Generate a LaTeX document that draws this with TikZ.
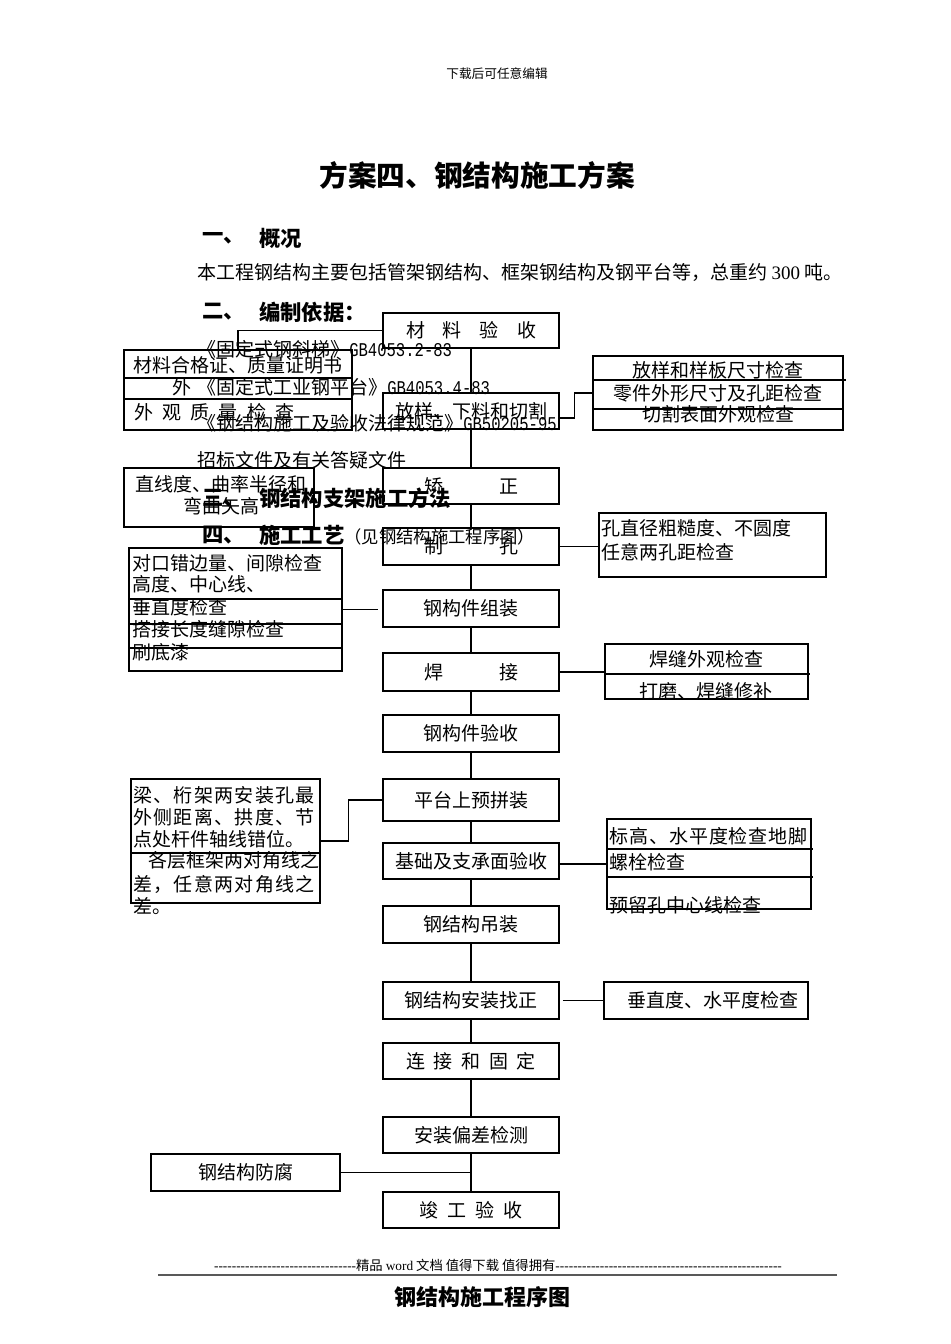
\documentclass[tikz,border=0pt]{standalone}
\usepackage{fontspec}
\setmainfont{Noto Sans CJK SC}
\newfontfamily\fserif{Liberation Serif}
\newfontfamily\fmono[FakeStretch=0.8]{Liberation Mono}
\newfontfamily\cjkwide[LetterSpace=7]{Noto Sans CJK SC}
\newfontfamily\cjkwideb[LetterSpace=5]{Noto Sans CJK SC}
\usetikzlibrary{calc}
\newcommand\fsz[1]{\fontsize{#1}{#1}\selectfont}
\newcommand\pxl[1]{#1*0.75pt}
\begin{document}
\begin{tikzpicture}[x=0.75pt,y=-0.75pt,
  mainbox/.style={draw,line width=1.2pt,minimum width=\pxl{176},minimum height=\pxl{36},inner sep=0pt,font=\fsz{14.25}},
  sidebox/.style={draw,line width=1.2pt,inner sep=0pt},
  inline/.style={line width=1.2pt},
  txt/.style={inner sep=0pt,anchor=west,font=\fsz{14.25}},
  ctxt/.style={inner sep=0pt,anchor=center,font=\fsz{14.25}},
  head/.style={inner sep=0pt,anchor=west,font=\fsz{16}\bfseries},
  conn/.style={line width=1pt},
]
\useasboundingbox (0,0) rectangle (950,1344);

% header and title
\node[ctxt,font=\fsz{9.5}] (hdr) at (497,74) {下载后可任意编辑};
\node[ctxt,font=\fsz{21.5}\bfseries] (title) at (477,175) {方案四、钢结构施工方案};

\node[head] (h1) at (202,238) {一、};
\node[head] (h1b) at (259,238) {概况};
\node[txt] (p1) at (197,272) {本工程钢结构主要包括管架钢结构、框架钢结构及钢平台等，总重约 {\fserif 300} 吨。};
\node[head] (h2) at (202,312) {二、};
\node[head] (h2b) at (259,312) {编制依据：};
\node[txt] (g1) at (197,349) {《固定式钢斜梯》{\fmono\fsz{14.6}GB4053.2-83}};
\node[txt] (g2) at (197,387) {《固定式工业钢平台》{\fmono\fsz{14.6}GB4053.4-83}};
\node[txt] (g3) at (197,423) {《钢结构施工及验收法律规范》{\fmono\fsz{14.6}GB50205-95}};
\node[txt] (g4) at (197,460) {招标文件及有关答疑文件};
\node[head] (h3) at (202,498) {三、};
\node[head] (h3b) at (259,498) {钢结构支架施工方法};
\node[head] (h4) at (202,535) {四、};
\node[txt] (h4b) at (259,535) {{\fsz{16}\bfseries 施工工艺}{\fsz{13}（见钢结构施工程序图）}};

% main column
\node[mainbox,minimum height=\pxl{35}] (b1) at (471,330.5) {材\hspace{13.5pt}料\hspace{13.5pt}验\hspace{13.5pt}收};
\node[mainbox] (b2) at (471,411) {放样、下料和切割};
\node[mainbox] (b3) at (471,486) {矫\hspace{42pt}正};
\node[mainbox,minimum height=\pxl{37}] (b4) at (471,546.5) {制\hspace{42pt}孔};
\node[mainbox,minimum height=\pxl{37}] (b5) at (471,608.5) {钢构件组装};
\node[mainbox,minimum height=\pxl{38}] (b6) at (471,672) {焊\hspace{42pt}接};
\node[mainbox,minimum height=\pxl{37}] (b7) at (471,733.5) {钢构件验收};
\node[mainbox,minimum height=\pxl{42}] (b8) at (471,800) {平台上预拼装};
\node[mainbox] (b9) at (471,861) {基础及支承面验收};
\node[mainbox,minimum height=\pxl{37}] (b10) at (471,924.5) {钢结构吊装};
\node[mainbox,minimum height=\pxl{37}] (b11) at (471,1000.5) {钢结构安装找正};
\node[mainbox] (b12) at (471,1061) {连\hspace{6.5pt}接\hspace{6.5pt}和\hspace{6.5pt}固\hspace{6.5pt}定};
\node[mainbox] (b13) at (471,1135) {安装偏差检测};
\node[mainbox] (b14) at (471,1210) {竣\hspace{7pt}工\hspace{7pt}验\hspace{7pt}收};

\foreach \a/\b in {b1/b2,b2/b3,b3/b4,b4/b5,b5/b6,b6/b7,b7/b8,b8/b9,b9/b10,b10/b11,b11/b12,b12/b13,b13/b14}
  \draw[conn] (\a.south) -- (\b.north);

% box A
\node[sidebox,minimum width=\pxl{228},minimum height=\pxl{80}] (A) at (238,390) {};
\draw[inline] (124,378) -- (352,378);
\draw[inline] (124,399) -- (352,399);
\node[txt] (a1) at (133,365) {材料合格证、质量证明书};
\node[txt] (a2) at (172,387) {外};
\node[txt] (a3) at (134,412) {外\hspace{6.9pt}观\hspace{6.9pt}质\hspace{6.9pt}量\hspace{6.9pt}检\hspace{6.9pt}查};
\draw[conn] (b1.west) -| (A.north);

% box B
\node[sidebox,minimum width=\pxl{190},minimum height=\pxl{59}] (B) at (219,497.5) {};
\node[txt] (bt1) at (135,484) {直线度、曲率半径和};
\node[txt] (bt2) at (183,506) {弯曲矢高};

% box C
\node[sidebox,minimum width=\pxl{213},minimum height=\pxl{123}] (C) at (235.5,609.5) {};
\draw[inline] (129,599) -- (342,599);
\draw[inline] (129,624) -- (342,624);
\draw[inline] (129,648) -- (342,648);
\node[txt] (c1) at (132,563) {对口错边量、间隙检查};
\node[txt] (c2) at (132,584) {高度、中心线、};
\node[txt] (c3) at (132,607) {垂直度检查};
\node[txt] (c4) at (132,629) {搭接长度缝隙检查};
\node[txt] (c5) at (132,652) {刷底漆};
\draw[conn] (C.east) -- ($(b5.west |- C.east)+(-4,0)$);

% box D
\node[sidebox,minimum width=\pxl{189},minimum height=\pxl{124}] (D) at (225.5,841) {};
\draw[inline] (131,853) -- (320,853);
\node[txt,font=\cjkwide\fsz{14.25}] (d1) at (133,795) {梁、桁架两安装孔最};
\node[txt,font=\cjkwide\fsz{14.25}] (d2) at (133,817) {外侧距离、拱度、节};
\node[txt] (d3) at (133,839) {点处杆件轴线错位。};
\node[txt] (d4) at (148,860) {各层框架两对角线之};
\node[txt,font=\cjkwide\fsz{14.25}] (d5) at (133,884) {差，任意两对角线之};
\node[txt] (d6) at (133,906) {差。};
\draw[conn] (D.east) -- ++(28,0) |- (b8.west);

% box E
\node[sidebox,minimum width=\pxl{250},minimum height=\pxl{74}] (E) at (718,393) {};
\draw[inline] (593,380) -- (846,380);
\draw[inline] (593,409) -- (843,409);
\node[ctxt] (e1) at (718,370) {放样和样板尺寸检查};
\node[ctxt] (e2) at (718,393) {零件外形尺寸及孔距检查};
\node[ctxt] (e3) at (718,414) {切割表面外观检查};
\draw[conn] ($(b2.east)+(0,7)$) -- ++(15,0) |- (E.west);

% box F
\node[sidebox,minimum width=\pxl{227},minimum height=\pxl{64}] (F) at (712.5,545) {};
\node[txt] (f1) at (601,528) {孔直径粗糙度、不圆度};
\node[txt] (f2) at (601,552) {任意两孔距检查};
\draw[conn] (b4.east) -- (b4.east -| F.west);

% box G
\node[sidebox,minimum width=\pxl{203},minimum height=\pxl{55}] (G) at (706.5,671.5) {};
\draw[inline] (605,674) -- (810,674);
\node[ctxt] (g5) at (706,659) {焊缝外观检查};
\node[ctxt] (g6) at (706,691) {打磨、焊缝修补};
\draw[conn] (b6.east) -- (b6.east -| G.west);

% box H
\node[sidebox,minimum width=\pxl{204},minimum height=\pxl{90}] (H) at (709,864) {};
\draw[inline] (607,849) -- (813,849);
\draw[inline] (607,877) -- (813,877);
\node[txt,font=\cjkwideb\fsz{14.25}] (hh1) at (609,836) {标高、水平度检查地脚};
\node[txt] (hh2) at (609,862) {螺栓检查};
\node[txt] (hh3) at (609,905) {预留孔中心线检查};
\draw[conn] (b9.east |- H.west) -- (H.west);

% box I
\node[sidebox,minimum width=\pxl{204},minimum height=\pxl{37}] (I) at (706,1000.5) {};
\node[ctxt] (i1) at (713,1000) {垂直度、水平度检查};
\draw[conn] ($(b11.east)+(3,0)$) -- (I.west);

% box J
\node[sidebox,minimum width=\pxl{189},minimum height=\pxl{37},font=\fsz{14.25}] (J) at (245.5,1172.5) {钢结构防腐};
\draw[conn] (J.east) -- (J.east -| b13.south);

% footer
\node[ctxt,font=\fsz{10}] (foot) at (498,1265) {{\fserif --------------------------------}精品 {\fserif word} 文档 值得下载 值得拥有{\fserif ---------------------------------------------------}};
\draw[line width=1.5pt,black!65] (158,1275) -- (837,1275);
\node[ctxt,font=\fsz{16.5}\bfseries] (ft) at (482,1297) {钢结构施工程序图};
\end{tikzpicture}
\end{document}
